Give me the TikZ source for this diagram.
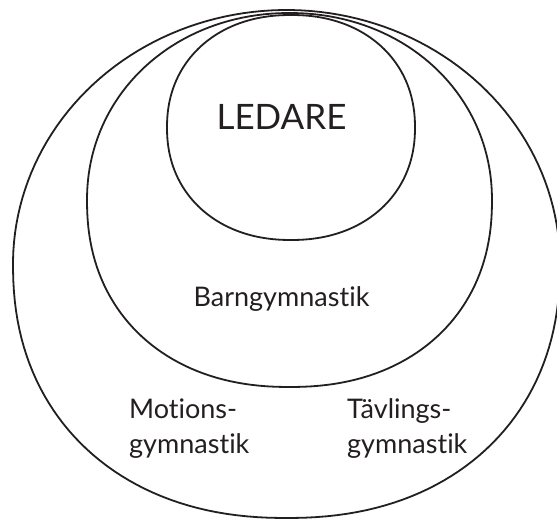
\documentclass[tikz,border=0pt]{standalone}
\usepackage{fontspec}
\setmainfont{Lato}[Ligatures={NoCommon}]
\definecolor{ink}{HTML}{231F20}
\begin{document}
\begin{tikzpicture}[x=1pt,y=-1pt,
  ring/.style={line width=1.8pt, draw=ink, line join=round},
  lbl/.style={text=ink, inner sep=0pt, font=\fontsize{27}{35}\selectfont, align=left, anchor=base west}]
\useasboundingbox (0,0) rectangle (557,521);
\clip (0,0) rectangle (557,521);
% outer shape
\draw[ring] plot[domain=1:361, samples=181, variable=\t]
  ({286.5+273.5*cos(\t)*abs(cos(\t))^(2/ifthenelse(\t<180,2.2,2.0)-1)},
   {264+254*sin(\t)*abs(sin(\t))^(2/ifthenelse(\t<180,2.2,2.0)-1)}) -- cycle;
% Barngymnastik shape
\draw[ring] plot[domain=1:361, samples=181, variable=\t]
  ({289.5+202.5*cos(\t)*abs(cos(\t))^(2/ifthenelse(\t<180,2.2,2.05)-1)},
   {200+187*sin(\t)*abs(sin(\t))^(2/ifthenelse(\t<180,2.2,2.05)-1)}) -- cycle;
% LEDARE shape
\draw[ring] plot[domain=1:361, samples=181, variable=\t]
  ({291+124*cos(\t)*abs(cos(\t))^(2/2.15-1)},
   {127.5+112.5*sin(\t)*abs(sin(\t))^(2/2.15-1)}) -- cycle;
\node[lbl, font=\fontsize{35}{40}\selectfont, anchor=base] (ledare) at (281.5,130) {LEDARE};
\node[lbl, anchor=base] (barn) at (281.5,307) {Barngymnastik};
\node[lbl] (motions) at (129,453) {Motions-\\gymnastik};
\node[lbl] (tavlings) at (347,453) {Tävlings-\\gymnastik};
\end{tikzpicture}
\end{document}
